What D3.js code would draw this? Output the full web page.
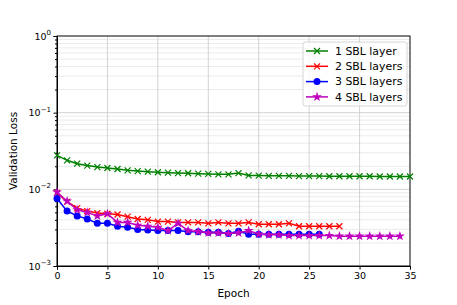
<!DOCTYPE html>
<html>
<head>
<meta charset="utf-8">
<script src="https://cdn.jsdelivr.net/npm/d3@7"></script>
<style>
  body { margin: 0; background: #fff; }
  text { font-family: "DejaVu Sans", sans-serif; }
</style>
</head>
<body>
<svg id="chart" width="457" height="305"></svg>
<script>
// data
const loss1 = [0.0277, 0.0239, 0.0216, 0.0204, 0.0195, 0.0190, 0.0184, 0.0177, 0.0173, 0.0170,
  0.0167, 0.0165, 0.0163, 0.0162, 0.0160, 0.0159, 0.0157, 0.0157, 0.0163, 0.0152,
  0.0151, 0.0150, 0.0150, 0.0150, 0.0149, 0.0149, 0.0149, 0.0148, 0.0148, 0.0148,
  0.0148, 0.0148, 0.0147, 0.0147, 0.0147, 0.0147];
const loss2 = [0.0090, 0.0069, 0.0057, 0.0052, 0.0049, 0.0048, 0.0047, 0.0044, 0.0041, 0.0040,
  0.0038, 0.0038, 0.0037, 0.0037, 0.0037, 0.0036, 0.0037, 0.0036, 0.0036, 0.0037,
  0.0035, 0.0035, 0.0035, 0.0036, 0.0033, 0.0033, 0.0033, 0.0033, 0.0033];
const loss3 = [0.0076, 0.0052, 0.0045, 0.0041, 0.0036, 0.0036, 0.0033, 0.0032, 0.0030, 0.00295,
  0.0029, 0.0029, 0.0029, 0.0028, 0.0028, 0.00275, 0.00275, 0.00265, 0.00284, 0.0026,
  0.0026, 0.0026, 0.0026, 0.0026, 0.0026, 0.0026, 0.0026];
const loss4 = [0.0092, 0.0070, 0.0054, 0.0050, 0.0045, 0.0048, 0.0037, 0.0037, 0.0034, 0.0033,
  0.0032, 0.0029, 0.0036, 0.0029, 0.0028, 0.0027, 0.0027, 0.00265, 0.0027, 0.0029,
  0.0026, 0.00255, 0.00255, 0.0025, 0.0025, 0.0025, 0.0025, 0.0025, 0.00245, 0.00245,
  0.00245, 0.00245, 0.00245, 0.00245, 0.00245];
const seriesNames = ["1 SBL layer", "2 SBL layers", "3 SBL layers", "4 SBL layers"];
const seriesColors = ["#008000", "#ff0000", "#0000ff", "#bf00bf"];
const seriesMarkers = ["x", "x", "circle", "star"];
const xTicks = [0, 5, 10, 15, 20, 25, 30, 35];
const yTicks = [1e-3, 1e-2, 1e-1, 1];
const yTickExps = ["\u22123", "\u22122", "\u22121", "0"];

const allSeries = [loss1, loss2, loss3, loss4].map((vals, i) => ({
  name: seriesNames[i], color: seriesColors[i], marker: seriesMarkers[i],
  points: vals.map((v, e) => ({ epoch: e, loss: v }))
}));

const svg = d3.select("#chart");
const margin = { left: 57, right: 47, top: 36, bottom: 39 };
const width = 457 - margin.left - margin.right;
const height = 305 - margin.top - margin.bottom;
const g = svg.append("g").attr("transform", `translate(${margin.left},${margin.top})`);

const x = d3.scaleLinear().domain([0, 35]).range([0, width]);
const y = d3.scaleLog().domain([1e-3, 1]).range([height, 0]);

// minor grid
const minorVals = [];
[1e-3, 1e-2, 1e-1].forEach(d => { for (let k = 2; k <= 9; k++) minorVals.push(d * k); });
g.append("g").selectAll("line").data(minorVals).join("line")
  .attr("x1", 0).attr("x2", width)
  .attr("y1", d => y(d)).attr("y2", d => y(d))
  .attr("stroke", "#e6e6e6").attr("stroke-width", 0.8);

// major grid
g.append("g").selectAll("line").data(yTicks).join("line")
  .attr("x1", 0).attr("x2", width)
  .attr("y1", d => y(d)).attr("y2", d => y(d))
  .attr("stroke", "#c8c8c8").attr("stroke-width", 0.8);
g.append("g").selectAll("line").data(xTicks).join("line")
  .attr("x1", d => x(d)).attr("x2", d => x(d))
  .attr("y1", 0).attr("y2", height)
  .attr("stroke", "#c8c8c8").attr("stroke-width", 0.8);

// axes
const xAxis = g.append("g").attr("transform", `translate(0,${height})`)
  .call(d3.axisBottom(x).tickValues(xTicks).tickSize(3.5).tickPadding(3));
const yAxis = g.append("g")
  .call(d3.axisLeft(y).tickValues(yTicks).tickSize(3.5).tickPadding(3).tickFormat(""));
g.append("g")
  .call(d3.axisLeft(y).tickValues(minorVals).tickSize(2).tickFormat(""))
  .call(s => s.select(".domain").remove());
[xAxis, yAxis].forEach(a => {
  a.selectAll("text").attr("font-size", 9.5).attr("fill", "#000");
  a.selectAll("line").attr("stroke", "#000");
});

// y tick labels as 10^n
yTicks.forEach((d, i) => {
  const t = g.append("text").attr("x", -6).attr("y", y(d) + 3.5)
    .attr("text-anchor", "end").attr("font-size", 9.5);
  t.append("tspan").text("10");
  t.append("tspan").attr("dy", -4.5).attr("font-size", 7).text(yTickExps[i]);
});

// frame
g.append("rect").attr("width", width).attr("height", height)
  .attr("fill", "none").attr("stroke", "#000").attr("stroke-width", 0.9);

// lines and markers
const line = d3.line().x(d => x(d.epoch)).y(d => y(d.loss));
const starPath = d3.symbol().type(d3.symbolStar).size(30)();
const xPath = "M-3,-3L3,3M-3,3L3,-3";

function drawMarker(sel, s) {
  if (s.marker === "circle") {
    sel.append("circle").attr("r", 3.5).attr("fill", s.color);
  } else if (s.marker === "star") {
    sel.append("path").attr("d", starPath).attr("fill", s.color);
  } else {
    sel.append("path").attr("d", xPath).attr("stroke", s.color).attr("stroke-width", 1.2).attr("fill", "none");
  }
}

const plot = g.append("g");
allSeries.forEach(s => {
  plot.append("path").datum(s.points).attr("d", line)
    .attr("fill", "none").attr("stroke", s.color).attr("stroke-width", 1.5);
  plot.append("g").selectAll("g").data(s.points).join("g")
    .attr("transform", d => `translate(${x(d.epoch)},${y(d.loss)})`)
    .each(function () { drawMarker(d3.select(this), s); });
});

// axis labels
svg.append("text").attr("x", margin.left + width / 2).attr("y", 297)
  .attr("text-anchor", "middle").attr("font-size", 10.5).text("Epoch");
svg.append("text").attr("transform", `translate(17,${margin.top + height / 2}) rotate(-90)`)
  .attr("text-anchor", "middle").attr("font-size", 10.5).text("Validation Loss");

// legend
const legend = svg.append("g").attr("transform", "translate(303,42)");
legend.append("rect").attr("width", 104).attr("height", 64).attr("rx", 2.5)
  .attr("fill", "#fff").attr("fill-opacity", 0.85).attr("stroke", "#ccc").attr("stroke-width", 0.8);
allSeries.forEach((s, i) => {
  const row = legend.append("g").attr("transform", `translate(0,${9 + i * 15.3})`);
  row.append("line").attr("x1", 3).attr("x2", 25).attr("stroke", s.color).attr("stroke-width", 1.5);
  drawMarker(row.append("g").attr("transform", "translate(14,0)"), s);
  row.append("text").attr("x", 32).attr("y", 3.8).attr("font-size", 10.9).text(s.name);
});
</script>
</body>
</html>
